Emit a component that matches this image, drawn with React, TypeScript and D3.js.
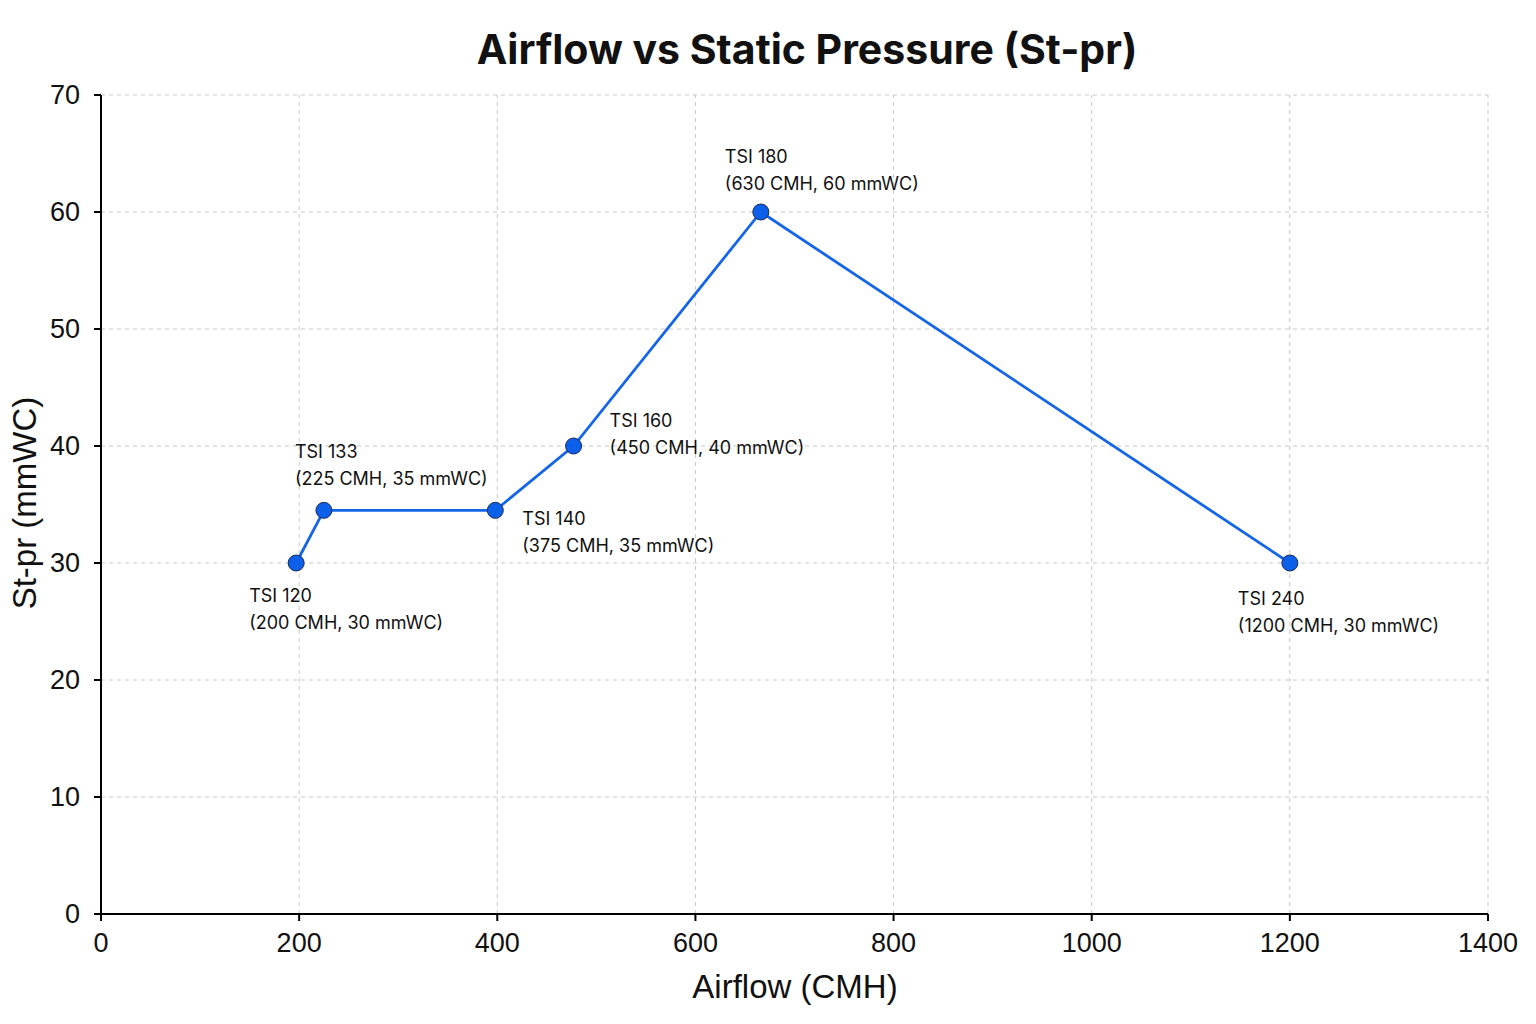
import React from 'react';
import * as d3 from 'd3';

// values (plotted position, not the label text)
const names = ['TSI 120', 'TSI 133', 'TSI 140', 'TSI 160', 'TSI 180', 'TSI 240'];
const airflow = [197, 225, 398, 477, 666, 1200];
const pressure = [30, 34.5, 34.5, 40, 60, 30];
const captions = [
  '(200 CMH, 30 mmWC)',
  '(225 CMH, 35 mmWC)',
  '(375 CMH, 35 mmWC)',
  '(450 CMH, 40 mmWC)',
  '(630 CMH, 60 mmWC)',
  '(1200 CMH, 30 mmWC)',
];
const xTicks = [0, 200, 400, 600, 800, 1000, 1200, 1400];
const yTicks = [0, 10, 20, 30, 40, 50, 60, 70];

// where each annotation sits relative to its point (px)
const labelOffsets = [
  [-47, 39],
  [-29, -52],
  [27, 15],
  [36, -19],
  [-36, -49],
  [-52, 42],
];

const W = 1536;
const H = 1024;
const margin = { top: 95, right: 48, bottom: 110, left: 101 };
const sans = '"Liberation Sans", Arial, sans-serif';
const blue = '#1565e8';

export default function App() {
  const x = d3.scaleLinear().domain([0, 1400]).range([margin.left, W - margin.right]);
  const y = d3.scaleLinear().domain([0, 70]).range([H - margin.bottom, margin.top]);

  const pts = airflow.map((a, i) => ({ a, p: pressure[i], name: names[i], cap: captions[i] }));
  const line = d3
    .line<any>()
    .x((d) => x(d.a))
    .y((d) => y(d.p));

  const x0 = x(0);
  const x1 = x(1400);
  const y0 = y(0);
  const y1 = y(70);

  return (
    <svg width={W} height={H} style={{ position: 'absolute', left: 0, top: 0, background: '#fff' }}>
      <text
        x={807}
        y={64}
        textAnchor="middle"
        fontFamily='Inter, "Noto Sans", sans-serif'
        fontWeight={700}
        fontSize={41}
        fill="#111"
      >
        Airflow vs Static Pressure (St-pr)
      </text>

      {/* grid */}
      <g stroke="#c8c8c8" strokeWidth={1} strokeDasharray="4,4">
        {xTicks.filter((t) => t > 0).map((t) => (
          <line key={'gx' + t} x1={x(t)} x2={x(t)} y1={y0} y2={y1} />
        ))}
        {yTicks.filter((t) => t > 0).map((t) => (
          <line key={'gy' + t} x1={x0} x2={x1} y1={y(t)} y2={y(t)} />
        ))}
      </g>

      {/* axes */}
      <g stroke="#000" strokeWidth={2}>
        <line x1={x0} x2={x1} y1={y0} y2={y0} />
        <line x1={x0} x2={x0} y1={y0} y2={y1} />
        {xTicks.map((t) => (
          <line key={'tx' + t} x1={x(t)} x2={x(t)} y1={y0} y2={y0 + 7} />
        ))}
        {yTicks.map((t) => (
          <line key={'ty' + t} x1={x0 - 7} x2={x0} y1={y(t)} y2={y(t)} />
        ))}
      </g>
      <g fontFamily={sans} fontSize={27} fill="#111">
        {xTicks.map((t) => (
          <text key={'lx' + t} x={x(t)} y={y0 + 38} textAnchor="middle">
            {t}
          </text>
        ))}
        {yTicks.map((t) => (
          <text key={'ly' + t} x={x0 - 21} y={y(t) + 9} textAnchor="end">
            {t}
          </text>
        ))}
      </g>

      <text x={795} y={998} textAnchor="middle" fontFamily={sans} fontSize={33} fill="#111">
        Airflow (CMH)
      </text>
      <text
        transform={`translate(36,${503}) rotate(-90)`}
        textAnchor="middle"
        fontFamily={sans}
        fontSize={33}
        fill="#111"
      >
        St-pr (mmWC)
      </text>

      {/* series */}
      <path d={line(pts) || ''} fill="none" stroke={blue} strokeWidth={2.8} />
      {pts.map((d, i) => (
        <circle key={'c' + i} cx={x(d.a)} cy={y(d.p)} r={8} fill="#0b5fe8" stroke="#1b2b55" strokeWidth={1} />
      ))}
      <g fontFamily='Inter, "Noto Sans", sans-serif' fontSize={18} fill="#111">
        {pts.map((d, i) => {
          const lx = x(d.a) + labelOffsets[i][0];
          const ly = y(d.p) + labelOffsets[i][1];
          return (
            <text key={'a' + i} x={lx} y={ly}>
              <tspan x={lx}>{d.name}</tspan>
              <tspan x={lx} dy={27}>
                {d.cap}
              </tspan>
            </text>
          );
        })}
      </g>
    </svg>
  );
}
